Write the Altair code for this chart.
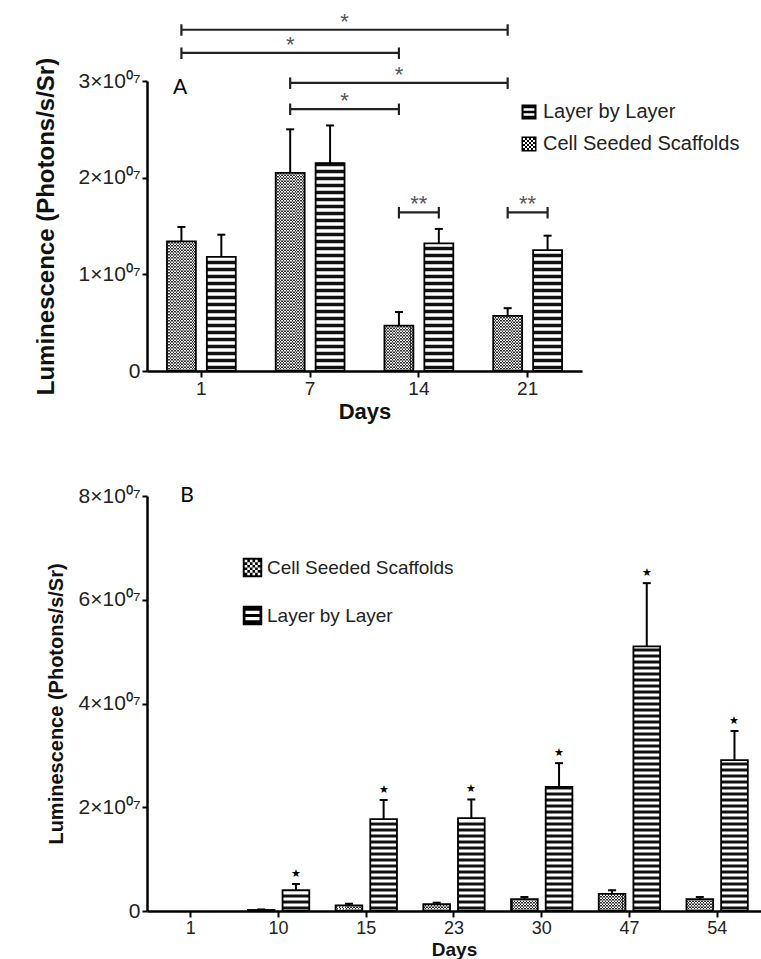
import altair as alt
import pandas as pd

CELL = "Cell Seeded Scaffolds"
LAYER = "Layer by Layer"

# ---------------- Panel A data ----------------
a_days = ["1", "7", "14", "21"]
a_cell = [1.34e7, 2.05e7, 0.47e7, 0.57e7]
a_cell_err = [0.15e7, 0.45e7, 0.14e7, 0.08e7]
a_layer = [1.18e7, 2.15e7, 1.32e7, 1.25e7]
a_layer_err = [0.23e7, 0.39e7, 0.15e7, 0.15e7]

# significance brackets (panel A)
a_br_from_day = ["1", "1", "7", "7", "14", "21"]
a_br_from_grp = [CELL, CELL, CELL, CELL, CELL, CELL]
a_br_to_day = ["21", "14", "21", "14", "14", "21"]
a_br_to_grp = [CELL, CELL, CELL, CELL, LAYER, LAYER]
a_br_level = [3.53e7, 3.29e7, 2.98e7, 2.71e7, 1.64e7, 1.64e7]
a_br_label = ["*", "*", "*", "*", "**", "**"]

# ---------------- Panel B data ----------------
b_days = ["1", "10", "15", "23", "30", "47", "54"]
b_cell = [0, 0.02e7, 0.11e7, 0.13e7, 0.23e7, 0.33e7, 0.23e7]
b_cell_err = [0, 0.01e7, 0.03e7, 0.03e7, 0.04e7, 0.07e7, 0.04e7]
b_layer = [0, 0.40e7, 1.77e7, 1.79e7, 2.39e7, 5.10e7, 2.91e7]
b_layer_err = [0, 0.12e7, 0.37e7, 0.36e7, 0.46e7, 1.22e7, 0.56e7]
b_star = ["", "★", "★", "★", "★", "★", "★"]

FONT = "Liberation Sans"


def long_df(days, cell, cell_err, layer, layer_err, stars=None):
    rows = []
    for i, d in enumerate(days):
        rows.append(dict(day=d, group=CELL, value=cell[i], err=cell_err[i], star=""))
        rows.append(dict(day=d, group=LAYER, value=layer[i], err=layer_err[i],
                         star=stars[i] if stars else ""))
    df = pd.DataFrame(rows)
    df["top"] = df["value"] + df["err"]
    return df


def checker_gradient(n, dark, light, invert=False):
    a, b = (light, dark) if invert else (dark, light)
    stops = []
    for i in range(n):
        stops += [
            alt.GradientStop(color=a, offset=i / n),
            alt.GradientStop(color=a, offset=(i + 0.5) / n),
            alt.GradientStop(color=b, offset=(i + 0.5) / n),
            alt.GradientStop(color=b, offset=(i + 1) / n),
        ]
    return alt.LinearGradient(gradient="linear", stops=stops, x1=0, x2=1, y1=0, y2=0)


def legend_paths():
    layer_path = ("M-1,-1H1V1H-1Z "
                  "M-0.72,-0.5V-0.16H0.72V-0.5Z "
                  "M-0.72,0.16V0.5H0.72V0.16Z")
    k = 6
    c = 1.6 / k
    holes = []
    for i in range(k):
        for j in range(k):
            if (i + j) % 2 == 0:
                x0 = -0.8 + i * c
                y0 = -0.8 + j * c
                holes.append(f"M{x0:.3f},{y0:.3f}V{y0 + c:.3f}H{x0 + c:.3f}V{y0:.3f}Z")
    cell_path = "M-1,-1H1V1H-1Z " + " ".join(holes)
    return {LAYER: layer_path, CELL: cell_path}


def panel(df, days, width, height, ydomain, pi, po, bw,
          checker_step, n_cols, stripe_step, stripe_thick,
          xaxis, yaxis, legend_order, legend_kw, label, label_xy,
          star_kw=None, brackets=None):
    xs = alt.Scale(domain=days, paddingInner=0, paddingOuter=0)
    x = alt.X("day:N", sort=days, scale=xs, axis=xaxis)
    xo = alt.XOffset("group:N", scale=alt.Scale(domain=[CELL, LAYER],
                                                paddingInner=pi, paddingOuter=po))
    ys = alt.Scale(domain=ydomain, nice=False, zero=True)

    def Y(field):
        return alt.Y(field, scale=ys, axis=yaxis)

    base = alt.Chart(df)
    cell_only = alt.datum.group == CELL
    layer_only = alt.datum.group == LAYER

    cell_bars = base.transform_filter(cell_only).mark_bar(
        fill=checker_gradient(n_cols, "#2a2a2a", "#f4f4f4"), opacity=1, strokeWidth=0
    ).encode(x=x, xOffset=xo, y=Y("value:Q"))

    cell_rows = base.transform_filter(cell_only).transform_calculate(
        rows=f"sequence({0.75 * checker_step}, datum.value, {checker_step})"
    ).transform_flatten(["rows"]).mark_tick(
        fill=checker_gradient(n_cols, "#2a2a2a", "#f4f4f4", invert=True),
        thickness=1.5, size=bw, opacity=1, orient="horizontal", strokeWidth=0
    ).encode(x=x, xOffset=xo, y=Y("rows:Q"))

    layer_bars = base.transform_filter(layer_only).mark_bar(
        fill="white", opacity=1, strokeWidth=0
    ).encode(x=x, xOffset=xo, y=Y("value:Q"))

    layer_rows = base.transform_filter(layer_only).transform_calculate(
        rows=f"sequence({0.5 * stripe_step}, datum.value, {stripe_step})"
    ).transform_flatten(["rows"]).mark_tick(
        color="#111", thickness=stripe_thick, size=bw, opacity=1, orient="horizontal"
    ).encode(x=x, xOffset=xo, y=Y("rows:Q"))

    outline = base.transform_filter(alt.datum.value > 0).mark_bar(
        fill="transparent", stroke="black", strokeWidth=1.8, opacity=1
    ).encode(x=x, xOffset=xo, y=Y("value:Q"))

    err_rule = base.transform_filter(alt.datum.err > 0).mark_rule(
        color="black", strokeWidth=2, opacity=1
    ).encode(x=x, xOffset=xo, y=Y("value:Q"), y2="top:Q")

    err_cap = base.transform_filter(alt.datum.err > 0).mark_tick(
        color="black", thickness=2, size=8, opacity=1, orient="horizontal"
    ).encode(x=x, xOffset=xo, y=Y("top:Q"))

    shapes = legend_paths()
    leg_df = pd.DataFrame({"group": legend_order})
    legend_layer = alt.Chart(leg_df).mark_point(filled=True, color="black", opacity=0).encode(
        shape=alt.Shape("group:N",
                        scale=alt.Scale(domain=legend_order,
                                        range=[shapes[g] for g in legend_order]),
                        legend=alt.Legend(title=None, orient="none", padding=0,
                                          symbolFillColor="black", symbolStrokeColor="black",
                                          symbolStrokeWidth=1, symbolOpacity=1,
                                          labelLimit=400,
                                          labelFont=FONT, labelColor="#222", **legend_kw))
    )

    lab = alt.Chart(pd.DataFrame({"t": [label]})).mark_text(
        font="Lato", fontSize=21, color="black", align="center", baseline="middle"
    ).encode(x=alt.value(label_xy[0]), y=alt.value(label_xy[1]), text="t:N")

    layers = [cell_bars, cell_rows, layer_bars, layer_rows, outline, err_rule, err_cap]

    if star_kw is not None:
        stars = base.transform_filter(alt.datum.star != "").mark_text(
            opacity=1, **star_kw
        ).encode(x=x, xOffset=xo, y=Y("top:Q"), text="star:N")
        layers.append(stars)

    layers += [legend_layer, lab]

    chart = alt.layer(*layers)

    if brackets is not None:
        br, caps, n = brackets
        qx = alt.Scale(domain=[0, n], nice=False, zero=False)
        br_rule = alt.Chart(br).mark_rule(color="#222", strokeWidth=2.2).encode(
            x=alt.X("x1:Q", scale=qx, axis=None), x2="x2:Q", y=Y("level:Q"))
        br_cap = alt.Chart(caps).mark_rule(color="#222", strokeWidth=2.2).encode(
            x=alt.X("x:Q", scale=qx, axis=None), y=Y("lo:Q"), y2="hi:Q")
        br_txt = alt.Chart(br).mark_text(
            font=FONT, fontSize=22, color="#555", baseline="alphabetic", dy=-1
        ).encode(x=alt.X("xm:Q", scale=qx, axis=None), y=Y("level:Q"), text="label:N")
        chart = alt.layer(chart, br_rule, br_cap, br_txt).resolve_scale(x="independent")

    return chart.properties(width=width, height=height)


label_expr = "datum.value == 0 ? '0' : format(datum.value / 1e7, 'd') + '×10⁰⁷'"

# Panel A
A_W, A_H = 435, 290
A_PI, A_PO = 0.275, 0.5
A_OFF = 0.5 / (2 - A_PI + 2 * A_PO)
a_px = 3e7 / A_H

a_df = long_df(a_days, a_cell, a_cell_err, a_layer, a_layer_err)


def bpos(days, d, g, off):
    return days.index(d) + 0.5 + (-off if g == CELL else off)


br_rows, cap_rows = [], []
for i in range(len(a_br_level)):
    x1 = bpos(a_days, a_br_from_day[i], a_br_from_grp[i], A_OFF)
    x2 = bpos(a_days, a_br_to_day[i], a_br_to_grp[i], A_OFF)
    br_rows.append(dict(x1=x1, x2=x2, xm=(x1 + x2) / 2, level=a_br_level[i], label=a_br_label[i]))
    for xx in (x1, x2):
        cap_rows.append(dict(x=xx, lo=a_br_level[i] - 6 * a_px, hi=a_br_level[i] + 5.5 * a_px))
a_br = pd.DataFrame(br_rows)
a_caps = pd.DataFrame(cap_rows)

a_xaxis = alt.Axis(title="Days", labelAngle=0, labelFontSize=19, titleFontSize=22,
                   titleFontWeight="bold", tickSize=6, labelPadding=2, titlePadding=3,
                   domainWidth=2.5, grid=False)
a_yaxis = alt.Axis(title="Luminescence (Photons/s/Sr)", values=[0, 1e7, 2e7, 3e7],
                   labelExpr=label_expr, labelFontSize=21, titleFontSize=24,
                   titleFontWeight="bold", tickSize=5, labelPadding=2, titlePadding=20,
                   domainWidth=2.5, grid=False)

chart_a = panel(
    a_df, a_days, A_W, A_H, [0, 3e7], A_PI, A_PO, 29,
    3 * a_px, 10, 7 * a_px, 3.5,
    a_xaxis, a_yaxis, [LAYER, CELL],
    dict(legendX=372, legendY=21, symbolSize=225, labelFontSize=20, rowPadding=12,
         labelOffset=4),
    "A", (33, 7),
    brackets=(a_br, a_caps, len(a_days)),
)

# Panel B
B_W, B_H = 614, 415
B_PI, B_PO = 0.23, 0.38
b_df = long_df(b_days, b_cell, b_cell_err, b_layer, b_layer_err, b_star)

b_xaxis = alt.Axis(title="Days", labelAngle=0, labelFontSize=18, titleFontSize=19,
                   titleFontWeight="bold", tickSize=6, labelPadding=2, titlePadding=3,
                   domainWidth=2.5, grid=False)
b_yaxis = alt.Axis(title="Luminescence (Photons/s/Sr)", values=[0, 2e7, 4e7, 6e7, 8e7],
                   labelExpr=label_expr, labelFontSize=21, titleFontSize=20,
                   titleFontWeight="bold", tickSize=5, labelPadding=2, titlePadding=12,
                   domainWidth=2.5, grid=False)

chart_b = panel(
    b_df, b_days, B_W, B_H, [0, 8e7], B_PI, B_PO, 27,
    3 * (8e7 / B_H), 9, 6 * (8e7 / B_H), 3,
    b_xaxis, b_yaxis, [CELL, LAYER],
    dict(legendX=95, legendY=61, symbolSize=380, labelFontSize=19, rowPadding=23,
         labelOffset=4),
    "B", (40, 0),
    star_kw=dict(font=FONT, fontSize=11, color="black", baseline="bottom", dy=-5),
)

chart = alt.vconcat(chart_a, chart_b, spacing=63).resolve_scale(
    x="independent", y="independent", xOffset="independent", shape="independent"
).resolve_legend(shape="independent").properties(
    padding={"left": 34, "top": 10, "right": 0, "bottom": 0},
    background="white",
).configure_view(strokeWidth=0, stroke="transparent").configure_axis(
    domainColor="black", tickColor="black", labelColor="#222", titleColor="#111",
    grid=False, labelFont=FONT, titleFont=FONT, tickWidth=2
)

chart.save("out.html", embed_options={"renderer": "svg", "actions": False})
